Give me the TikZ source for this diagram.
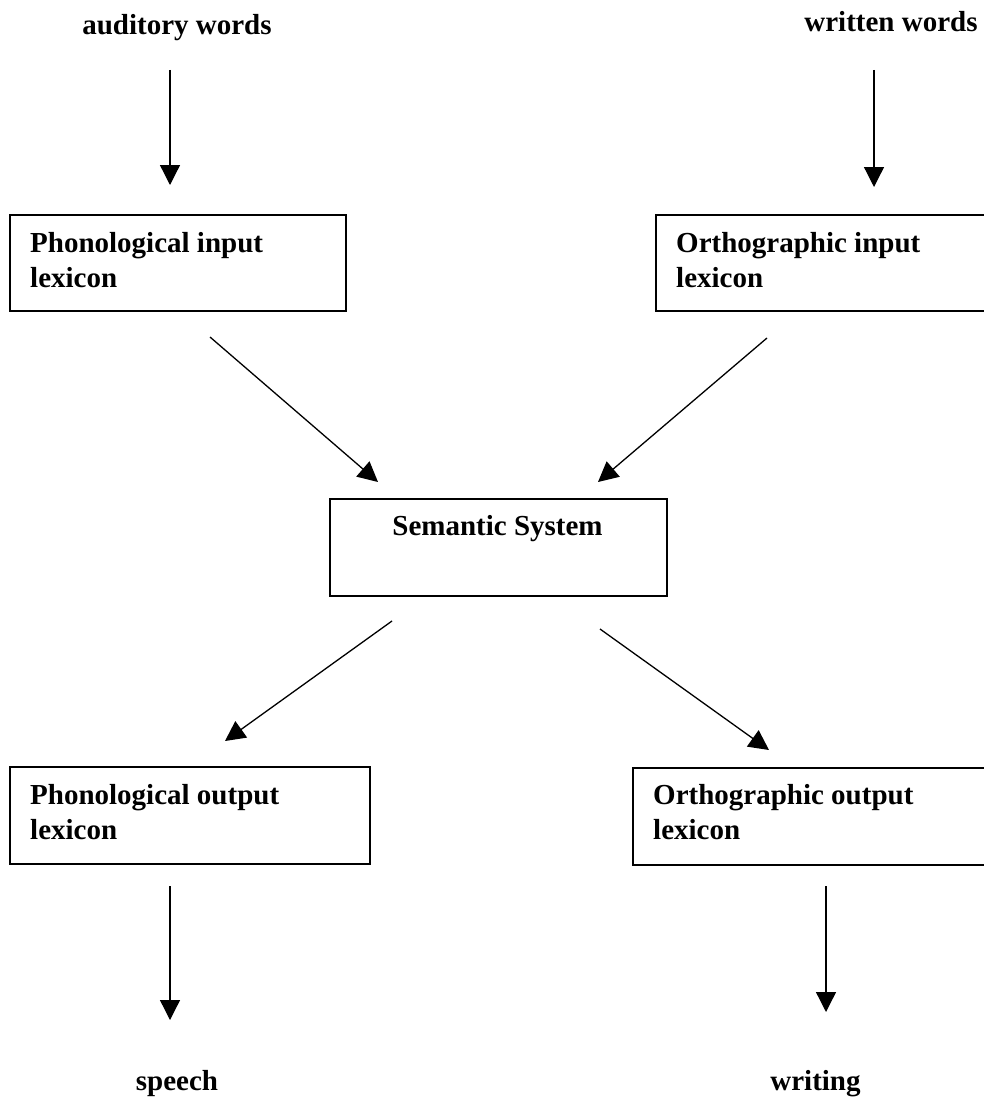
\documentclass[tikz,border=0pt]{standalone}
\usepackage{fontspec}
\setmainfont{Liberation Serif}
\usetikzlibrary{arrows.meta}
\begin{document}
\begin{tikzpicture}[x=1pt,y=-1pt,
  box/.style={draw, line width=1.5pt, rectangle, inner sep=0pt, anchor=north west},
  lbl/.style={font=\bfseries\fontsize{29}{35}\selectfont, inner sep=0pt},
  conn/.style={line width=1.3pt, -{Triangle[length=20pt,width=20pt]}}]
\clip (0,0) rectangle (984,1097);
\fill[white] (0,0) rectangle (984,1097);
% boxes
\node[box, minimum width=336pt, minimum height=96pt] (pil) at (9,214) {};
\node[box, minimum width=340pt, minimum height=96pt] (oil) at (655,214) {};
\node[box, minimum width=337pt, minimum height=97pt] (sem) at (329,498) {};
\node[box, minimum width=360pt, minimum height=97pt] (pol) at (9,766) {};
\node[box, minimum width=360pt, minimum height=97pt] (ool) at (632,767) {};
% texts
\node[lbl, anchor=base] (aw) at (177,35) {auditory words};
\node[lbl, anchor=base] (ww) at (891,32) {written words};
\node[lbl, anchor=base west] (pilt) at (30,252) {\parbox[t]{320pt}{\raggedright Phonological input\\lexicon}};
\node[lbl, anchor=base west] (oilt) at (676,252) {\parbox[t]{300pt}{\raggedright Orthographic input\\lexicon}};
\node[lbl, anchor=base] (semt) at (497.5,535) {Semantic System};
\node[lbl, anchor=base west] (polt) at (30,804) {\parbox[t]{330pt}{\raggedright Phonological output\\lexicon}};
\node[lbl, anchor=base west] (oolt) at (653,804) {\parbox[t]{330pt}{\raggedright Orthographic output\\lexicon}};
\node[lbl, anchor=base] (sp) at (177,1090) {speech};
\node[lbl, anchor=base] (wr) at (815.5,1090) {writing};
% connector end points
\coordinate (a1s) at (170,70);  \coordinate (a1e) at (170,185);
\coordinate (a2s) at (874,70);  \coordinate (a2e) at (874,187);
\coordinate (b1s) at (210,337); \coordinate (b1e) at (378,482);
\coordinate (b2s) at (767,338); \coordinate (b2e) at (598,482);
\coordinate (c1s) at (392,621); \coordinate (c1e) at (225,741);
\coordinate (c2s) at (600,629); \coordinate (c2e) at (769,750);
\coordinate (d1s) at (170,886); \coordinate (d1e) at (170,1020);
\coordinate (d2s) at (826,886); \coordinate (d2e) at (826,1012);
% connectors
\draw[conn] (a1s) -- (a1e);
\draw[conn] (a2s) -- (a2e);
\draw[conn] (b1s) -- (b1e);
\draw[conn] (b2s) -- (b2e);
\draw[conn] (c1s) -- (c1e);
\draw[conn] (c2s) -- (c2e);
\draw[conn] (d1s) -- (d1e);
\draw[conn] (d2s) -- (d2e);
\end{tikzpicture}
\end{document}
